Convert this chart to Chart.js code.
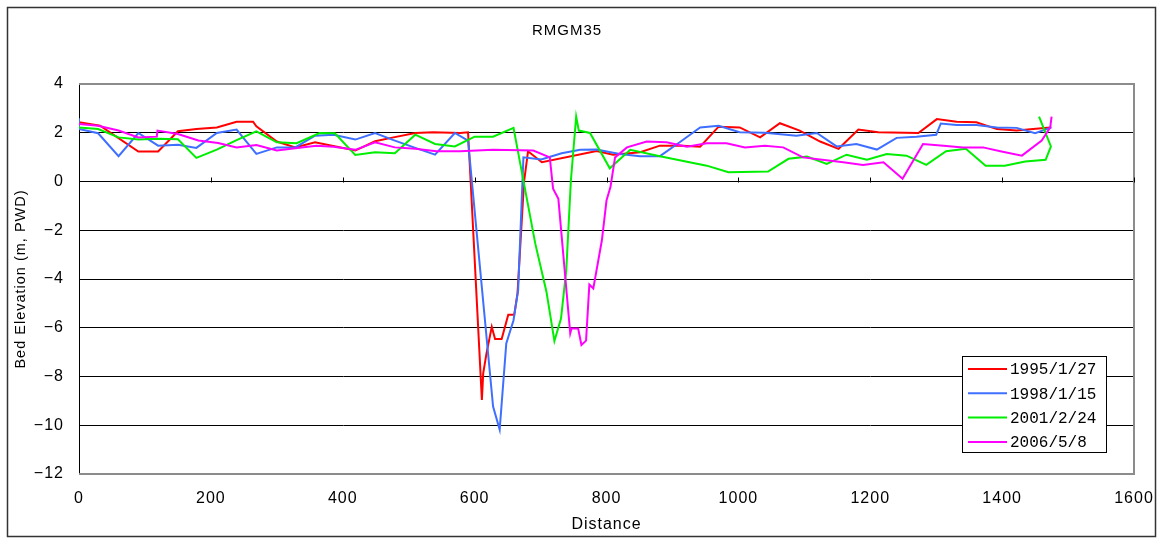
<!DOCTYPE html>
<html>
<head>
<meta charset="utf-8">
<script src="https://cdn.jsdelivr.net/npm/chart.js@4.4.1/dist/chart.umd.min.js"></script>
<style>
    html, body { margin: 0; padding: 0; background: #fff; }
    #wrap { width: 1161px; height: 538px; }
</style>
</head>
<body>
<div id="wrap"><canvas id="chart" width="1161" height="538"></canvas></div>
<script>
// ============================================
// Survey data (distance, bed elevation)
// ============================================

const seriesLabels = ['1995/1/27', '1998/1/15', '2001/2/24', '2006/5/8'];
const seriesColors = ['#ff0000', '#3f6fff', '#00ee00', '#ff00ff'];

const dist1995 = [0, 32, 90, 120, 150, 178, 209, 239, 264, 269, 300, 328, 358, 419, 449, 477, 510, 537, 578, 590,
    594, 611, 613, 618, 626, 631, 641, 651, 660, 665, 675, 681, 702, 785, 810, 851, 881, 916, 942, 970,
    1002, 1033, 1063, 1093, 1124, 1152, 1182, 1212, 1273, 1301, 1331, 1361, 1392, 1422, 1447, 1473];
const elev1995 = [2.43, 2.29, 1.23, 1.23, 2.06, 2.15, 2.22, 2.45, 2.45, 2.26, 1.64, 1.40, 1.61, 1.27, 1.65, 1.81, 1.99, 2.02, 1.99, 2.02,
    0.0, -8.96, -7.87, -7.05, -5.96, -6.46, -6.46, -5.47, -5.47, -4.60, 0.0, 1.24, 0.79, 1.25, 1.10, 1.20, 1.47, 1.47, 1.43, 2.25,
    2.22, 1.81, 2.39, 2.09, 1.64, 1.34, 2.13, 2.02, 1.99, 2.56, 2.45, 2.43, 2.15, 2.09, 2.15, 2.22];

const dist1998 = [0, 0, 29, 60, 90, 120, 150, 178, 209, 239, 269, 300, 328, 358, 386, 419, 449, 477, 510, 540,
    570, 590, 628, 638, 648, 659, 666, 674, 701, 732, 760, 785, 820, 851, 881, 911, 942, 970, 1002, 1040,
    1088, 1119, 1149, 1179, 1210, 1240, 1270, 1300, 1307, 1331, 1361, 1392, 1422, 1450, 1475];
const elev1998 = [2.60, 2.15, 1.98, 1.04, 1.99, 1.47, 1.51, 1.38, 1.99, 2.13, 1.13, 1.40, 1.40, 1.88, 1.92, 1.72, 1.99, 1.70, 1.38, 1.10,
    1.99, 1.68, -9.23, -10.18, -6.64, -5.69, -4.46, 0.99, 0.90, 1.16, 1.30, 1.31, 1.13, 1.04, 1.04, 1.61, 2.22, 2.29, 2.02, 2.00,
    1.88, 1.99, 1.44, 1.54, 1.31, 1.79, 1.84, 1.92, 2.38, 2.32, 2.32, 2.22, 2.20, 1.98, 2.22];

const dist2001 = [0, 29, 60, 90, 120, 150, 178, 209, 239, 269, 300, 330, 365, 388, 419, 449, 479, 510, 540, 570,
    600, 628, 659, 692, 709, 721, 731, 739, 746, 754, 758, 775, 805, 836, 881, 952, 985, 1045, 1076, 1104,
    1134, 1164, 1195, 1225, 1255, 1285, 1315, 1345, 1375, 1404, 1435, 1466, 1474, 1456];
const elev2001 = [2.22, 2.15, 1.81, 1.72, 1.75, 1.73, 0.97, 1.31, 1.70, 2.06, 1.61, 1.57, 1.99, 1.98, 1.09, 1.20, 1.16, 1.92, 1.54, 1.44,
    1.84, 1.84, 2.20, -2.55, -4.53, -6.54, -5.62, -3.64, 0.04, 2.66, 2.09, 1.99, 0.54, 1.30, 1.04, 0.65, 0.38, 0.41, 0.93, 1.02,
    0.72, 1.10, 0.89, 1.13, 1.06, 0.68, 1.24, 1.34, 0.65, 0.65, 0.82, 0.89, 1.44, 2.66];

const dist2006 = [0, 29, 60, 90, 118, 119, 150, 181, 211, 239, 269, 300, 328, 360, 386, 419, 449, 479, 510, 542,
    578, 628, 689, 714, 719, 727, 745, 747, 757, 762, 769, 774, 780, 793, 800, 806, 813, 831, 861, 891,
    922, 952, 982, 1010, 1040, 1068, 1098, 1124, 1159, 1189, 1220, 1249, 1280, 1311, 1341, 1371, 1399, 1430, 1460, 1473,
    1475];
const elev2006 = [2.36, 2.29, 2.09, 1.81, 1.84, 2.09, 1.95, 1.68, 1.58, 1.40, 1.50, 1.27, 1.36, 1.47, 1.43, 1.30, 1.61, 1.40, 1.34, 1.24,
    1.24, 1.30, 1.27, 0.99, -0.30, -0.71, -6.23, -6.03, -6.03, -6.71, -6.53, -4.23, -4.39, -2.41, -0.78, -0.23, 0.99, 1.40, 1.64, 1.61,
    1.43, 1.57, 1.57, 1.40, 1.47, 1.40, 0.99, 0.90, 0.79, 0.68, 0.79, 0.11, 1.54, 1.47, 1.40, 1.40, 1.23, 1.06, 1.68, 2.22,
    2.66];

// axis ranges / ticks
const xMin = 0, xMax = 1600, xStep = 200;
const yMin = -12, yMax = 4, yStep = 2;

const allDist = [dist1995, dist1998, dist2001, dist2006];
const allElev = [elev1995, elev1998, elev2001, elev2006];

function toPoints(xs, ys) {
    return xs.map((x, i) => ({ x: x, y: ys[i] }));
}

// ============================================
// Plugins: frame, y=0 tick marks, legend box, outer border
// ============================================

const framePlugin = {
    id: 'excelFrame',
    beforeDraw(chart) {
        chart.ctx.letterSpacing = '1px';
    },
    beforeDatasetsDraw(chart) {
        const { ctx, chartArea: a, scales: { x, y } } = chart;
        ctx.save();
        ctx.lineWidth = 2;
        ctx.strokeStyle = '#8c8c8c';
        ctx.beginPath();
        ctx.moveTo(a.left, a.top);
        ctx.lineTo(a.right, a.top);
        ctx.lineTo(a.right, a.bottom);
        ctx.lineTo(a.left, a.bottom);
        ctx.stroke();

        // tick marks sit on the zero line
        const y0 = Math.round(y.getPixelForValue(0)) + 0.5;
        ctx.lineWidth = 1;
        ctx.strokeStyle = '#000';
        x.ticks.forEach(t => {
            const px = Math.round(x.getPixelForValue(t.value)) + 0.5;
            ctx.beginPath();
            ctx.moveTo(px, y0 - 5);
            ctx.lineTo(px, y0);
            ctx.stroke();
        });
        ctx.restore();
    },
    afterDraw(chart) {
        const ctx = chart.ctx;
        ctx.save();

        // legend box
        const bx = 962.5, by = 356.5, bw = 144, bh = 96;
        ctx.fillStyle = '#fff';
        ctx.fillRect(bx, by, bw, bh);
        ctx.strokeStyle = '#000';
        ctx.lineWidth = 1;
        ctx.strokeRect(bx, by, bw, bh);

        ctx.letterSpacing = '0px';
        ctx.font = '16px "Liberation Mono", "DejaVu Sans Mono", monospace';
        ctx.textBaseline = 'middle';
        ctx.textAlign = 'left';
        chart.data.datasets.forEach((ds, i) => {
            const ly = 369 + i * 24.3;
            ctx.strokeStyle = ds.borderColor;
            ctx.lineWidth = 2;
            ctx.beginPath();
            ctx.moveTo(968, ly);
            ctx.lineTo(1007, ly);
            ctx.stroke();
            ctx.fillStyle = '#000';
            ctx.fillText(ds.label, 1010, ly + 1);
        });

        // outer chart border
        ctx.strokeStyle = '#333';
        ctx.lineWidth = 1.5;
        ctx.strokeRect(7.5, 7.5, 1148, 529);
        ctx.restore();
    }
};

// ============================================
// Chart
// ============================================

const datasets = seriesLabels.map((label, i) => ({
    label: label,
    data: toPoints(allDist[i], allElev[i]),
    borderColor: seriesColors[i],
    backgroundColor: seriesColors[i],
    borderWidth: 2,
    showLine: true,
    pointRadius: 0,
    tension: 0,
    order: seriesLabels.length - 1 - i
}));

const fontFamily = '"Liberation Sans", Arial, sans-serif';

new Chart(document.getElementById('chart').getContext('2d'), {
    type: 'scatter',
    data: { datasets: datasets },
    plugins: [framePlugin],
    options: {
        responsive: false,
        animation: false,
        layout: { padding: { left: 0, right: 27, top: 0, bottom: 0 } },
        plugins: {
            legend: { display: false },
            tooltip: { enabled: false },
            title: {
                display: true,
                text: 'RMGM35',
                color: '#000',
                font: { family: fontFamily, size: 15, weight: 'normal' },
                padding: { top: 22, bottom: 44 }
            }
        },
        scales: {
            x: {
                type: 'linear',
                min: xMin,
                max: xMax,
                afterFit(axis) { axis.height = 64; },
                // tick marks are drawn by the plugin on the zero line; the
                // tick length here only pushes the labels down
                grid: { display: false, drawTicks: true, tickLength: 10 },
                border: { display: false },
                ticks: {
                    stepSize: xStep,
                    padding: 5,
                    color: '#000',
                    maxRotation: 0,
                    font: { family: fontFamily, size: 16 },
                    callback: v => String(v)
                },
                title: {
                    display: true,
                    text: 'Distance',
                    color: '#000',
                    font: { family: fontFamily, size: 16 },
                    padding: { top: 0, bottom: 4 }
                }
            },
            y: {
                min: yMin,
                max: yMax,
                afterFit(axis) { axis.width = 79; },
                grid: {
                    drawTicks: false,
                    color: c => (c.tick && (c.tick.value === yMax || c.tick.value === yMin)) ? 'rgba(0,0,0,0)' : '#000',
                    lineWidth: 1
                },
                border: { display: true, color: '#000', width: 1 },
                ticks: {
                    stepSize: yStep,
                    padding: 15,
                    color: '#000',
                    font: { family: fontFamily, size: 16 },
                    callback: v => v < 0 ? '\u2212' + Math.abs(v) : String(v)
                },
                title: {
                    display: true,
                    text: 'Bed Elevation (m, PWD)',
                    color: '#000',
                    font: { family: fontFamily, size: 14.5 },
                    padding: { top: 12, bottom: 0 }
                }
            }
        }
    }
});
</script>
</body>
</html>
